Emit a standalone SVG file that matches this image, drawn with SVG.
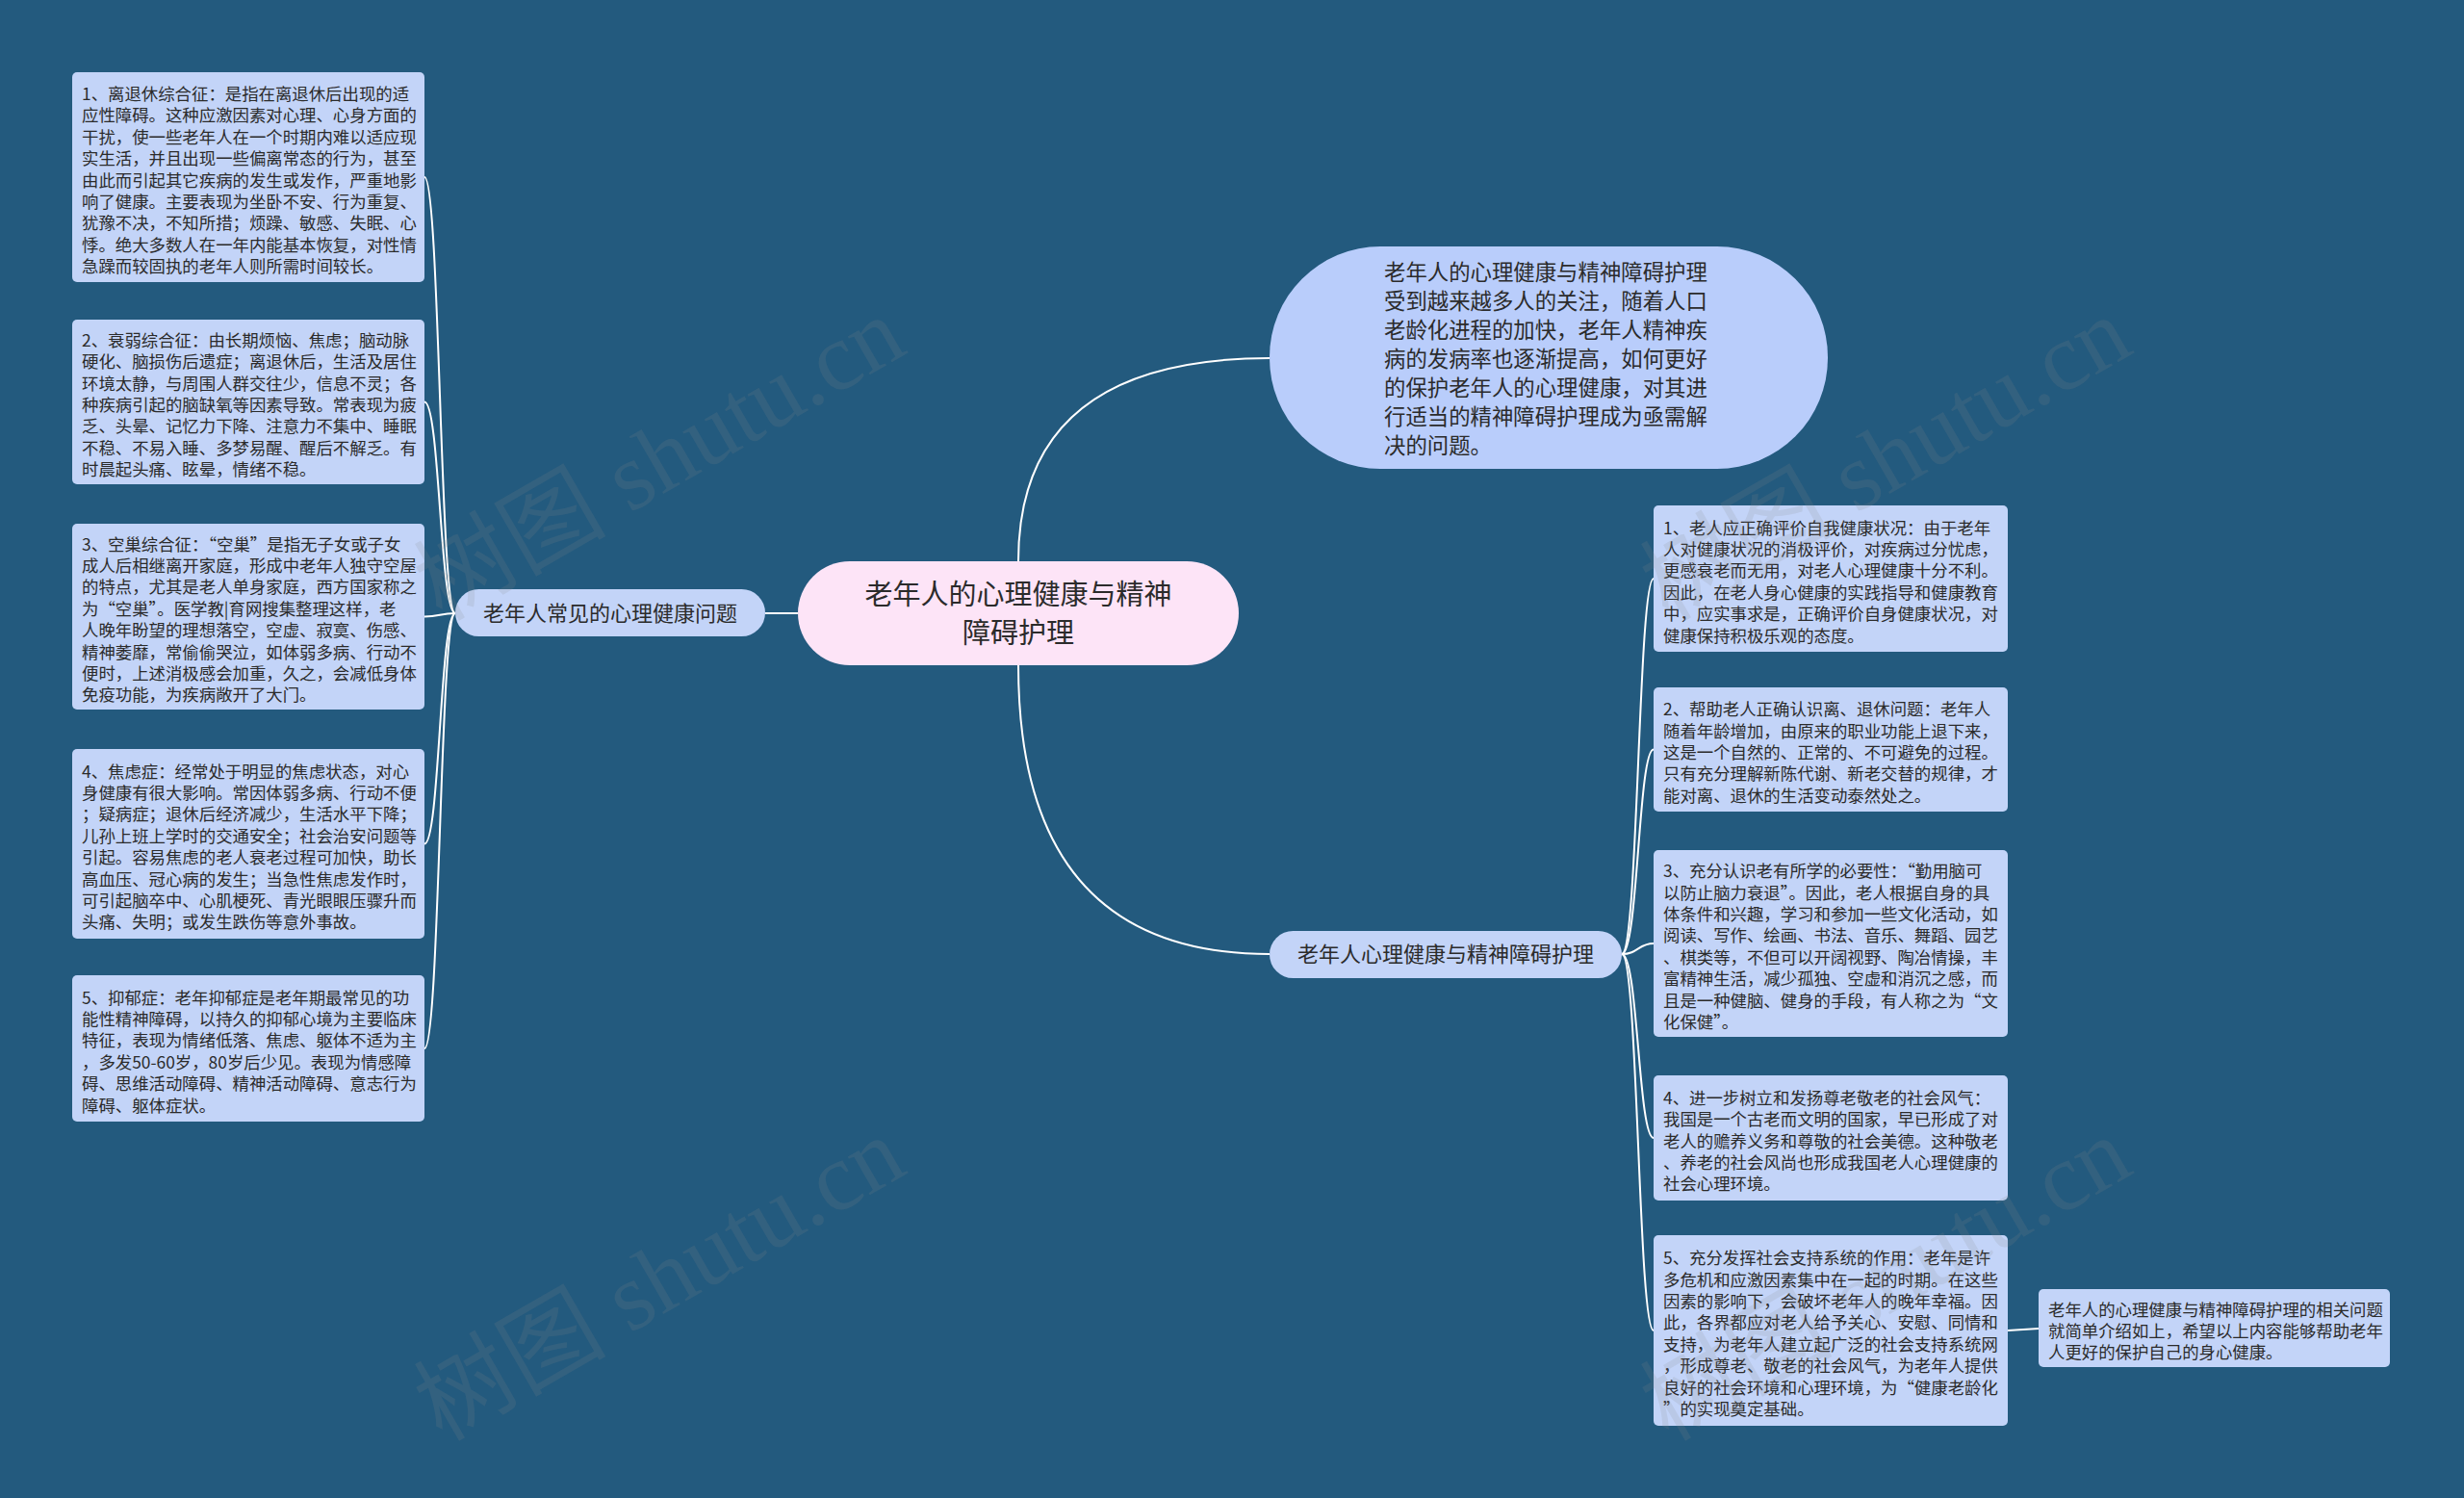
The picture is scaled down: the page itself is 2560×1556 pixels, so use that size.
<svg xmlns="http://www.w3.org/2000/svg" width="2560" height="1556" viewBox="0 0 2560 1556">
<defs>
<style>
.bg{fill:#235a7e}
.sub{fill:#c3d4f8}
.br{fill:#c3d4f8}
.t{font-family:"Noto Sans CJK SC","Noto Sans",sans-serif;fill:#2b2b2b}
.st{font-size:17.4px}
.bt{font-size:22px}
.ct{font-size:29px}
.dt{font-size:22.4px}
.wm{font-family:"Liberation Serif","Noto Sans CJK SC",serif;font-size:100px;fill:#8a8a8a;fill-opacity:0.16}
.cn{fill:none;stroke:#ffffff;stroke-width:2}
</style>
</defs>
<rect class="bg" x="0" y="0" width="2560" height="1556"/>

<g id="connectors">
<path class="cn" d="M829 637 L795 637"/>
<path class="cn" d="M1058 583 Q1058 372 1319 372"/>
<path class="cn" d="M1058 691 Q1058 991 1319 991"/>
<path class="cn" d="M473 637 C457 637 457 184 441 184"/>
<path class="cn" d="M473 637 C457 637 457 417.5 441 417.5"/>
<path class="cn" d="M473 637 C457 637 457 640.5 441 640.5"/>
<path class="cn" d="M473 637 C457 637 457 876.5 441 876.5"/>
<path class="cn" d="M473 637 C457 637 457 1089 441 1089"/>
<path class="cn" d="M1685 991 C1702 991 1702 601 1718 601"/>
<path class="cn" d="M1685 991 C1702 991 1702 778.5 1718 778.5"/>
<path class="cn" d="M1685 991 C1702 991 1702 980 1718 980"/>
<path class="cn" d="M1685 991 C1702 991 1702 1182 1718 1182"/>
<path class="cn" d="M1685 991 C1702 991 1702 1382 1718 1382"/>
<path class="cn" d="M2086 1382 L2118 1380"/>
</g>

<g id="center">
<rect x="829" y="583" width="458" height="108" rx="54" fill="#fde4f7"/>
<text class="t ct" text-anchor="middle"><tspan x="1058" y="628">老年人的心理健康与精神</tspan><tspan x="1058" y="668">障碍护理</tspan></text>
</g>

<g id="intro">
<rect x="1319" y="256" width="580" height="231" rx="115" fill="#b9cdfb"/>
<text class="t dt"><tspan x="1438" y="291">老年人的心理健康与精神障碍护理</tspan><tspan x="1438" dy="30">受到越来越多人的关注，随着人口</tspan><tspan x="1438" dy="30">老龄化进程的加快，老年人精神疾</tspan><tspan x="1438" dy="30">病的发病率也逐渐提高，如何更好</tspan><tspan x="1438" dy="30">的保护老年人的心理健康，对其进</tspan><tspan x="1438" dy="30">行适当的精神障碍护理成为亟需解</tspan><tspan x="1438" dy="30">决的问题。</tspan></text>
</g>

<g id="branch-left">
<rect class="br" x="473" y="612" width="322" height="49" rx="24.5"/>
<text class="t bt" x="634" y="645" text-anchor="middle">老年人常见的心理健康问题</text>
</g>

<g id="branch-right">
<rect class="br" x="1319" y="967" width="366" height="49" rx="24.5"/>
<text class="t bt" x="1502" y="999" text-anchor="middle">老年人心理健康与精神障碍护理</text>
</g>

<g id="left-1">
<rect class="sub" x="75" y="75" width="366" height="218" rx="5"/>
<text class="t st"><tspan x="85" y="104">1、离退休综合征：是指在离退休后出现的适</tspan><tspan x="85" dy="22.4">应性障碍。这种应激因素对心理、心身方面的</tspan><tspan x="85" dy="22.4">干扰，使一些老年人在一个时期内难以适应现</tspan><tspan x="85" dy="22.4">实生活，并且出现一些偏离常态的行为，甚至</tspan><tspan x="85" dy="22.4">由此而引起其它疾病的发生或发作，严重地影</tspan><tspan x="85" dy="22.4">响了健康。主要表现为坐卧不安、行为重复、</tspan><tspan x="85" dy="22.4">犹豫不决，不知所措；烦躁、敏感、失眠、心</tspan><tspan x="85" dy="22.4">悸。绝大多数人在一年内能基本恢复，对性情</tspan><tspan x="85" dy="22.4">急躁而较固执的老年人则所需时间较长。</tspan></text>
</g>

<g id="left-2">
<rect class="sub" x="75" y="332" width="366" height="171" rx="5"/>
<text class="t st"><tspan x="85" y="359.8">2、衰弱综合征：由长期烦恼、焦虑；脑动脉</tspan><tspan x="85" dy="22.4">硬化、脑损伤后遗症；离退休后，生活及居住</tspan><tspan x="85" dy="22.4">环境太静，与周围人群交往少，信息不灵；各</tspan><tspan x="85" dy="22.4">种疾病引起的脑缺氧等因素导致。常表现为疲</tspan><tspan x="85" dy="22.4">乏、头晕、记忆力下降、注意力不集中、睡眠</tspan><tspan x="85" dy="22.4">不稳、不易入睡、多梦易醒、醒后不解乏。有</tspan><tspan x="85" dy="22.4">时晨起头痛、眩晕，情绪不稳。</tspan></text>
</g>

<g id="left-3">
<rect class="sub" x="75" y="544" width="366" height="193" rx="5"/>
<text class="t st"><tspan x="85" y="571.6">3、空巢综合征：“空巢”是指无子女或子女</tspan><tspan x="85" dy="22.4">成人后相继离开家庭，形成中老年人独守空屋</tspan><tspan x="85" dy="22.4">的特点，尤其是老人单身家庭，西方国家称之</tspan><tspan x="85" dy="22.4">为“空巢”。医学教|育网搜集整理这样，老</tspan><tspan x="85" dy="22.4">人晚年盼望的理想落空，空虚、寂寞、伤感、</tspan><tspan x="85" dy="22.4">精神萎靡，常偷偷哭泣，如体弱多病、行动不</tspan><tspan x="85" dy="22.4">便时，上述消极感会加重，久之，会减低身体</tspan><tspan x="85" dy="22.4">免疫功能，为疾病敞开了大门。</tspan></text>
</g>

<g id="left-4">
<rect class="sub" x="75" y="778" width="366" height="197" rx="5"/>
<text class="t st"><tspan x="85" y="807.6">4、焦虑症：经常处于明显的焦虑状态，对心</tspan><tspan x="85" dy="22.4">身健康有很大影响。常因体弱多病、行动不便</tspan><tspan x="85" dy="22.4">；疑病症；退休后经济减少，生活水平下降；</tspan><tspan x="85" dy="22.4">儿孙上班上学时的交通安全；社会治安问题等</tspan><tspan x="85" dy="22.4">引起。容易焦虑的老人衰老过程可加快，助长</tspan><tspan x="85" dy="22.4">高血压、冠心病的发生；当急性焦虑发作时，</tspan><tspan x="85" dy="22.4">可引起脑卒中、心肌梗死、青光眼眼压骤升而</tspan><tspan x="85" dy="22.4">头痛、失明；或发生跌伤等意外事故。</tspan></text>
</g>

<g id="left-5">
<rect class="sub" x="75" y="1013" width="366" height="152" rx="5"/>
<text class="t st"><tspan x="85" y="1042.5">5、抑郁症：老年抑郁症是老年期最常见的功</tspan><tspan x="85" dy="22.4">能性精神障碍，以持久的抑郁心境为主要临床</tspan><tspan x="85" dy="22.4">特征，表现为情绪低落、焦虑、躯体不适为主</tspan><tspan x="85" dy="22.4">，多发50-60岁，80岁后少见。表现为情感障</tspan><tspan x="85" dy="22.4">碍、思维活动障碍、精神活动障碍、意志行为</tspan><tspan x="85" dy="22.4">障碍、躯体症状。</tspan></text>
</g>

<g id="right-1">
<rect class="sub" x="1718" y="525" width="368" height="152" rx="5"/>
<text class="t st"><tspan x="1728" y="554.5">1、老人应正确评价自我健康状况：由于老年</tspan><tspan x="1728" dy="22.4">人对健康状况的消极评价，对疾病过分忧虑，</tspan><tspan x="1728" dy="22.4">更感衰老而无用，对老人心理健康十分不利。</tspan><tspan x="1728" dy="22.4">因此，在老人身心健康的实践指导和健康教育</tspan><tspan x="1728" dy="22.4">中，应实事求是，正确评价自身健康状况，对</tspan><tspan x="1728" dy="22.4">健康保持积极乐观的态度。</tspan></text>
</g>

<g id="right-2">
<rect class="sub" x="1718" y="714" width="368" height="129" rx="5"/>
<text class="t st"><tspan x="1728" y="743.2">2、帮助老人正确认识离、退休问题：老年人</tspan><tspan x="1728" dy="22.4">随着年龄增加，由原来的职业功能上退下来，</tspan><tspan x="1728" dy="22.4">这是一个自然的、正常的、不可避免的过程。</tspan><tspan x="1728" dy="22.4">只有充分理解新陈代谢、新老交替的规律，才</tspan><tspan x="1728" dy="22.4">能对离、退休的生活变动泰然处之。</tspan></text>
</g>

<g id="right-3">
<rect class="sub" x="1718" y="883" width="368" height="194" rx="5"/>
<text class="t st"><tspan x="1728" y="911.1">3、充分认识老有所学的必要性：“勤用脑可</tspan><tspan x="1728" dy="22.4">以防止脑力衰退”。因此，老人根据自身的具</tspan><tspan x="1728" dy="22.4">体条件和兴趣，学习和参加一些文化活动，如</tspan><tspan x="1728" dy="22.4">阅读、写作、绘画、书法、音乐、舞蹈、园艺</tspan><tspan x="1728" dy="22.4">、棋类等，不但可以开阔视野、陶冶情操，丰</tspan><tspan x="1728" dy="22.4">富精神生活，减少孤独、空虚和消沉之感，而</tspan><tspan x="1728" dy="22.4">且是一种健脑、健身的手段，有人称之为“文</tspan><tspan x="1728" dy="22.4">化保健”。</tspan></text>
</g>

<g id="right-4">
<rect class="sub" x="1718" y="1117" width="368" height="130" rx="5"/>
<text class="t st"><tspan x="1728" y="1146.7">4、进一步树立和发扬尊老敬老的社会风气：</tspan><tspan x="1728" dy="22.4">我国是一个古老而文明的国家，早已形成了对</tspan><tspan x="1728" dy="22.4">老人的赡养义务和尊敬的社会美德。这种敬老</tspan><tspan x="1728" dy="22.4">、养老的社会风尚也形成我国老人心理健康的</tspan><tspan x="1728" dy="22.4">社会心理环境。</tspan></text>
</g>

<g id="right-5">
<rect class="sub" x="1718" y="1283" width="368" height="198" rx="5"/>
<text class="t st"><tspan x="1728" y="1313.1">5、充分发挥社会支持系统的作用：老年是许</tspan><tspan x="1728" dy="22.4">多危机和应激因素集中在一起的时期。在这些</tspan><tspan x="1728" dy="22.4">因素的影响下，会破坏老年人的晚年幸福。因</tspan><tspan x="1728" dy="22.4">此，各界都应对老人给予关心、安慰、同情和</tspan><tspan x="1728" dy="22.4">支持，为老年人建立起广泛的社会支持系统网</tspan><tspan x="1728" dy="22.4">，形成尊老、敬老的社会风气，为老年人提供</tspan><tspan x="1728" dy="22.4">良好的社会环境和心理环境，为“健康老龄化</tspan><tspan x="1728" dy="22.4">”的实现奠定基础。</tspan></text>
</g>

<g id="summary">
<rect class="sub" x="2118" y="1339" width="365" height="81" rx="5"/>
<text class="t st"><tspan x="2128" y="1366.6">老年人的心理健康与精神障碍护理的相关问题</tspan><tspan x="2128" dy="22.4">就简单介绍如上，希望以上内容能够帮助老年</tspan><tspan x="2128" dy="22.4">人更好的保护自己的身心健康。</tspan></text>
</g>

<g id="watermarks">
<text class="wm" x="686" y="510" text-anchor="middle" transform="rotate(-30 686 478)">树图 shutu.cn</text>
<text class="wm" x="1960" y="510" text-anchor="middle" transform="rotate(-30 1960 478)">树图 shutu.cn</text>
<text class="wm" x="686" y="1362" text-anchor="middle" transform="rotate(-30 686 1330)">树图 shutu.cn</text>
<text class="wm" x="1960" y="1362" text-anchor="middle" transform="rotate(-30 1960 1330)">树图 shutu.cn</text>
</g>
</svg>
